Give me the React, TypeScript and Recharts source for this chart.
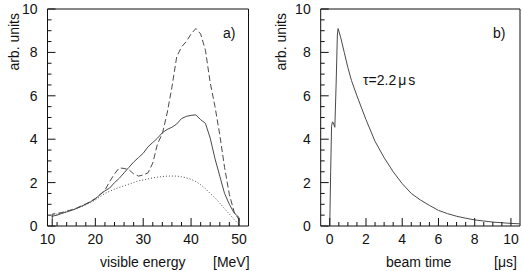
import React from 'react';
import { LineChart, Line, XAxis, YAxis, ReferenceArea } from 'recharts';

// panel a) visible energy spectra
const energy = [11, 12, 13, 14, 15, 16, 17, 18, 19, 20, 21, 22, 23, 24, 25, 26, 27, 28, 29, 30, 31, 32, 33, 34, 35, 36, 37, 38, 39, 40, 41, 42, 43, 44, 45, 46, 47, 48, 49, 50];
const solidVals = [0.45, 0.5, 0.58, 0.65, 0.72, 0.8, 0.9, 1.0, 1.12, 1.25, 1.45, 1.62, 1.75, 2.0, 2.2, 2.45, 2.7, 2.95, 3.15, 3.35, 3.65, 3.85, 4.05, 4.3, 4.45, 4.55, 4.7, 4.95, 5.05, 5.1, 5.12, 4.9, 4.73, 4.05, 3.1, 2.3, 1.5, 1.0, 0.6, 0.4];
const dashedVals = [0.55, 0.58, 0.62, 0.68, 0.75, 0.82, 0.92, 1.02, 1.13, 1.27, 1.45, 1.65, 2.05, 2.4, 2.68, 2.65, 2.6, 2.4, 2.3, 2.35, 2.45, 2.9, 3.8, 4.25, 5.2, 6.4, 7.8, 8.25, 8.5, 8.85, 9.1, 8.85, 8.1, 6.6, 5.5, 4.2, 2.7, 1.45, 0.65, 0.3];
const dottedVals = [0.5, 0.55, 0.6, 0.66, 0.72, 0.8, 0.88, 0.98, 1.08, 1.2, 1.35, 1.5, 1.6, 1.7, 1.78, 1.85, 1.93, 2.0, 2.08, 2.12, 2.17, 2.22, 2.25, 2.28, 2.3, 2.3, 2.3, 2.27, 2.22, 2.15, 2.05, 1.9, 1.72, 1.5, 1.3, 1.05, 0.8, 0.55, 0.3, 0.08];

// panel b) beam time distribution
const beamTime = [0, 0.05, 0.1, 0.15, 0.2, 0.28, 0.35, 0.42, 0.46, 0.6, 0.8, 1.0, 1.2, 1.5, 2.0, 2.5, 3.0, 3.5, 4.0, 4.5, 5.0, 5.5, 6.0, 6.5, 7.0, 7.5, 8.0, 8.5, 9.0, 9.5, 10.0, 10.5];
const beamVals = [0, 2.5, 4.6, 4.8, 4.75, 4.55, 6.5, 8.8, 9.1, 8.7, 8.0, 7.3, 6.7, 6.0, 4.9, 3.9, 3.15, 2.5, 1.95, 1.5, 1.2, 0.95, 0.72, 0.57, 0.45, 0.36, 0.28, 0.23, 0.18, 0.15, 0.12, 0.1];

const energyTicks = Array.from({ length: 21 }, (_, i) => 10 + i * 2);
const timeTicks = Array.from({ length: 21 }, (_, i) => i * 0.5);
const yTicks = Array.from({ length: 21 }, (_, i) => i * 0.5);

const spectrum = [
  { e: 11, solid: 0, dashed: 0, dotted: 0 },
  ...energy.map((e, i) => ({ e, solid: solidVals[i], dashed: dashedVals[i], dotted: dottedVals[i] })),
  { e: 50, solid: 0, dashed: 0, dotted: 0 },
];
const beam = beamTime.map((t, i) => ({ t, v: beamVals[i] }));

const FONT = 'Liberation Sans, Arial, Helvetica, sans-serif';
const INK = '#111';
const LINE = '#4a4a4a';

const isMajor = (v: number, step: number) => Math.abs(v / step - Math.round(v / step)) < 1e-6;

const xTick = (step: number) => (p: any) => {
  const v = p.payload.value;
  const major = isMajor(v, step);
  return (
    <g>
      <line x1={p.x} x2={p.x} y1={p.y} y2={p.y - (major ? 8 : 4)} stroke={INK} />
      {major && (
        <text x={p.x} y={p.y + 18} textAnchor="middle" fontSize={14} fontFamily={FONT} fill={INK}>
          {v}
        </text>
      )}
    </g>
  );
};

const yTick = (p: any) => {
  const v = p.payload.value;
  const major = isMajor(v, 2);
  return (
    <g>
      <line x1={p.x} x2={p.x + (major ? 8 : 4)} y1={p.y} y2={p.y} stroke={INK} />
      {major && (
        <text x={p.x - 10} y={p.y + 5} textAnchor="end" fontSize={14} fontFamily={FONT} fill={INK}>
          {v}
        </text>
      )}
    </g>
  );
};

const txt = { fontSize: 14, fontFamily: FONT, fill: INK };

function EnergyPanel() {
  return (
    <LineChart width={261} height={271} data={spectrum} margin={{ top: 9, left: 7.5, right: 12.5, bottom: 15 }}>
      <XAxis dataKey="e" type="number" domain={[10, 52]} ticks={energyTicks} interval={0} allowDataOverflow
        height={30} axisLine={false} tickLine={false} tickSize={0} tickMargin={0} tick={xTick(10)} />
      <YAxis type="number" domain={[0, 10]} ticks={yTicks} interval={0} allowDataOverflow
        width={40} axisLine={false} tickLine={false} tickSize={0} tickMargin={0} tick={yTick} />
      <ReferenceArea x1={10} x2={52} y1={0} y2={10} fill="none" stroke={INK} strokeWidth={1} />
      <Line dataKey="dotted" type="linear" dot={false} stroke={LINE} strokeWidth={1} strokeDasharray="1 2" isAnimationActive={false} />
      <Line dataKey="dashed" type="linear" dot={false} stroke={LINE} strokeWidth={1} strokeDasharray="6 3" isAnimationActive={false} />
      <Line dataKey="solid" type="linear" dot={false} stroke={LINE} strokeWidth={1} isAnimationActive={false} />
      <text x={223} y={38} {...txt}>a)</text>
      <text x={100} y={267} {...txt}>visible energy</text>
      <text x={213} y={267} {...txt}>[MeV]</text>
      <text transform="translate(18.5,13) rotate(-90)" textAnchor="end" {...txt}>arb. units</text>
    </LineChart>
  );
}

function BeamPanel() {
  return (
    <LineChart width={261} height={271} data={beam} margin={{ top: 9, left: 19.7, right: 2, bottom: 15 }}>
      <XAxis dataKey="t" type="number" domain={[-0.5, 10.5]} ticks={timeTicks} interval={0} allowDataOverflow
        height={30} axisLine={false} tickLine={false} tickSize={0} tickMargin={0} tick={xTick(2)} />
      <YAxis type="number" domain={[0, 10]} ticks={yTicks} interval={0} allowDataOverflow
        width={40} axisLine={false} tickLine={false} tickSize={0} tickMargin={0} tick={yTick} />
      <ReferenceArea x1={-0.5} x2={10.5} y1={0} y2={10} fill="none" stroke={INK} strokeWidth={1} />
      <Line dataKey="v" type="linear" dot={false} stroke={LINE} strokeWidth={1} isAnimationActive={false} />
      <text x={232} y={38} {...txt}>b)</text>
      <text x={102} y={85} {...txt}>
        <tspan>τ=2.2</tspan>
        <tspan dx={2}>μ</tspan>
        <tspan dx={2}>s</tspan>
      </text>
      <text x={125} y={267} {...txt}>beam time</text>
      <text x={233} y={267} {...txt}>[μs]</text>
      <text transform="translate(25,13) rotate(-90)" textAnchor="end" {...txt}>arb. units</text>
    </LineChart>
  );
}

export default function App() {
  return (
    <div style={{ position: 'absolute', left: 0, top: 0, width: 522, height: 271, display: 'flex', background: '#fff' }}>
      <EnergyPanel />
      <BeamPanel />
    </div>
  );
}
